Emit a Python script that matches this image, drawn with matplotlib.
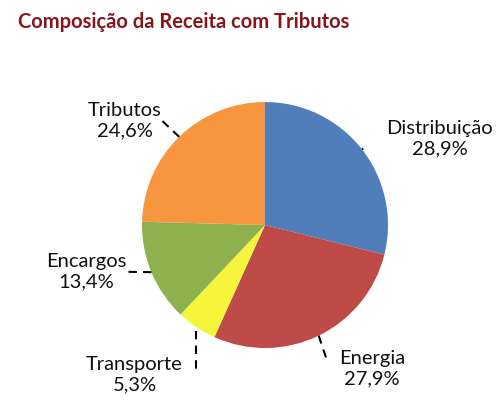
import matplotlib
matplotlib.use("Agg")
import matplotlib.pyplot as plt
import numpy as np

categories = ["Distribuição", "Energia", "Transporte", "Encargos", "Tributos"]
values = [28.9, 27.9, 5.3, 13.4, 24.6]
value_labels = ["28,9%", "27,9%", "5,3%", "13,4%", "24,6%"]
colors = ["#4F7EBB", "#BE4B48", "#F5F53C", "#8FB04F", "#F7963F"]

plt.rcParams['font.family'] = ['Lato', 'DejaVu Sans']

fig = plt.figure(figsize=(5.04, 4.15), dpi=100)
fig.patch.set_facecolor("white")
fig.text(18/504, 1 - 22/415, "Composição da Receita com Tributos", fontsize=14.5,
         fontweight="bold", color="#85161A", va="center", ha="left")

ax = fig.add_axes([(265-123)/504, (415-225-123)/415, 246/504, 246/415])
wedges, _ = ax.pie(values, colors=colors, startangle=90, counterclock=False,
                   radius=1.0, wedgeprops=dict(linewidth=0))
ax.set_xlim(-1, 1)
ax.set_ylim(-1, 1)
ax.set_aspect("equal")
ax.axis("off")

# label placement (layout, data coords)
label_pos = [(1.42, 0.70), (0.87, -1.17), (-1.06, -1.22), (-1.45, -0.38), (-1.14, 0.85)]
leader_end = [(0.80, 0.62), (0.51, -1.12), (-0.56, -1.16), (-1.15, -0.38), (-0.86, 0.87)]

for w, lab, vl, pos, end in zip(wedges, categories, value_labels, label_pos, leader_end):
    ang = np.deg2rad((w.theta1 + w.theta2) / 2)
    sx, sy = np.cos(ang), np.sin(ang)
    ax.text(pos[0], pos[1], f"{lab}\n{vl}", ha="center", va="center", fontsize=14.5,
            color="#111111", linespacing=1.25, clip_on=False)
    if lab == "Transporte":
        sx, sy = -0.56, -0.86
        ax.plot([sx, sx, sx - 0.03], [sy, end[1], end[1]], color="black", lw=1.5,
                ls=(0, (4, 3)), clip_on=False)
    else:
        ax.plot([sx * 1.0, end[0]], [sy * 1.0, end[1]], color="black", lw=1.5,
                ls=(0, (4, 3)), clip_on=False)

fig.savefig("out.png", dpi=100, facecolor="white")
